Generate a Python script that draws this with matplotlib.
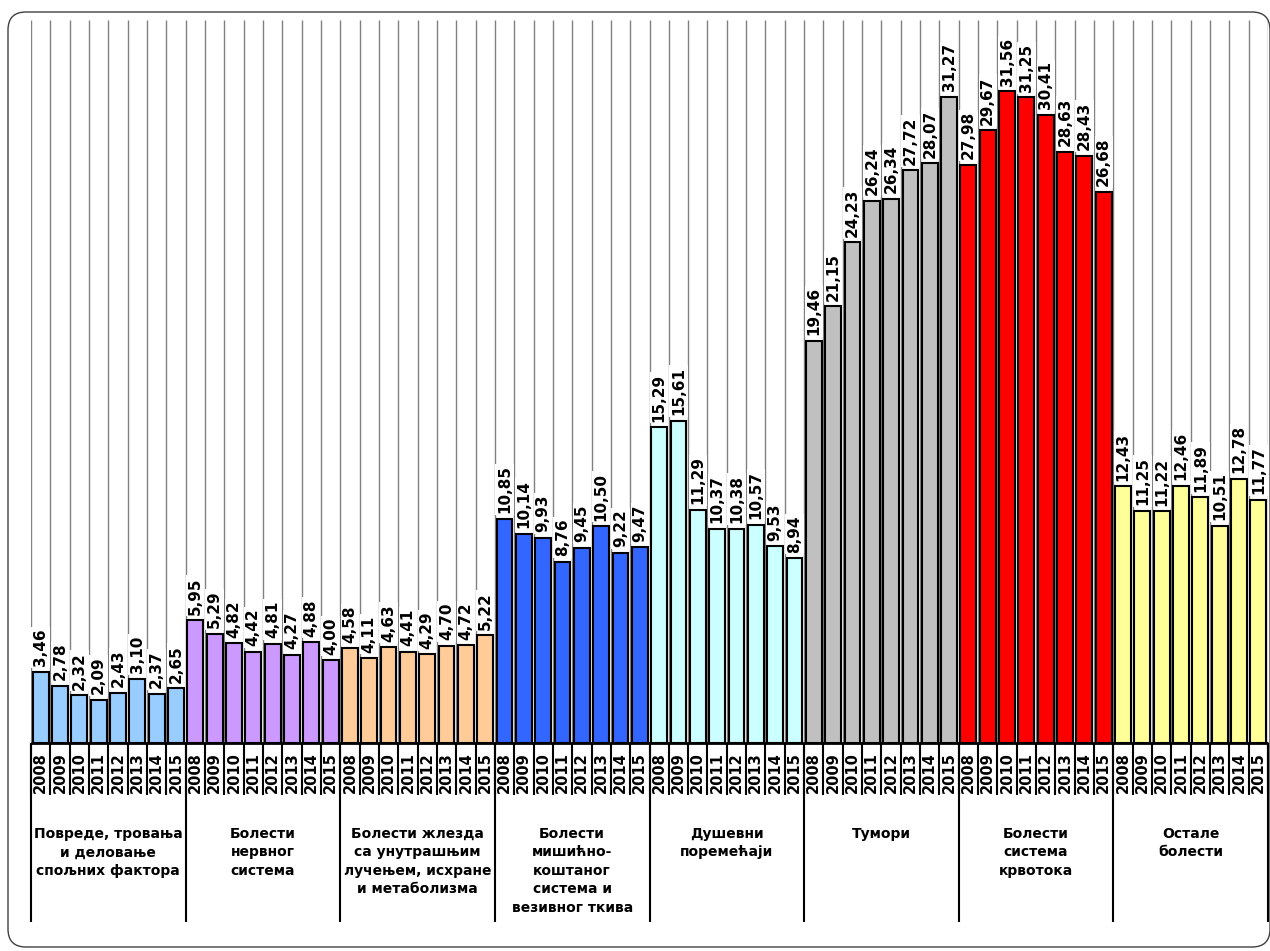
import matplotlib
matplotlib.use("Agg")
import matplotlib.pyplot as plt
from matplotlib.patches import FancyBboxPatch
from matplotlib.transforms import IdentityTransform

years = ["2008", "2009", "2010", "2011", "2012", "2013", "2014", "2015"]

groups = [
    "Повреде, тровања\nи деловање\nспољних фактора",
    "Болести\nнервног\nсистема",
    "Болести жлезда\nса унутрашњим\nлучењем, исхране\nи метаболизма",
    "Болести\nмишићно-\nкоштаног\nсистема и\nвезивног ткива",
    "Душевни\nпоремећаји",
    "Тумори",
    "Болести\nсистема\nкрвотока",
    "Остале\nболести",
]

injuries = [3.46, 2.78, 2.32, 2.09, 2.43, 3.10, 2.37, 2.65]
nervous = [5.95, 5.29, 4.82, 4.42, 4.81, 4.27, 4.88, 4.00]
endocrine = [4.58, 4.11, 4.63, 4.41, 4.29, 4.70, 4.72, 5.22]
musculo = [10.85, 10.14, 9.93, 8.76, 9.45, 10.50, 9.22, 9.47]
mental = [15.29, 15.61, 11.29, 10.37, 10.38, 10.57, 9.53, 8.94]
tumors = [19.46, 21.15, 24.23, 26.24, 26.34, 27.72, 28.07, 31.27]
circulatory = [27.98, 29.67, 31.56, 31.25, 30.41, 28.63, 28.43, 26.68]
other = [12.43, 11.25, 11.22, 12.46, 11.89, 10.51, 12.78, 11.77]

series = [injuries, nervous, endocrine, musculo, mental, tumors, circulatory, other]
colors = ["#99CCFF", "#CC99FF", "#FFCC99", "#3366FF",
          "#CCFFFF", "#C0C0C0", "#FF0000", "#FFFF99"]

W, H = 1270, 951
fig = plt.figure(figsize=(W / 100, H / 100), dpi=100)
# axes in pixel terms: left 31, right 1268, baseline 743, top 20
ax = fig.add_axes([31 / W, (H - 743) / H, (1268 - 31) / W, (743 - 20) / H])

n_years = len(years)
n_total = n_years * len(groups)
ymax = 35.0
ax.set_xlim(0, n_total)
ax.set_ylim(0, ymax)
px_per_unit = (743 - 20) / ymax

def px(p):
    # pixels below baseline -> data y
    return -p / px_per_unit

# gray grid lines at each slot boundary
ax.vlines(range(n_total + 1), 0, ymax, colors="#808080", lw=1, zorder=0)

for g, (vals, col) in enumerate(zip(series, colors)):
    xs = [g * n_years + i + 0.5 for i in range(n_years)]
    ax.bar(xs, vals, width=0.82, color=col, edgecolor="black", lw=1.5, zorder=2)
    for x, v in zip(xs, vals):
        ax.annotate(f"{v:.2f}".replace(".", ","), (x, v), xytext=(0, 4),
                    textcoords="offset points", rotation=90, ha="center", va="bottom",
                    fontsize=11, fontweight="bold", zorder=3,
                    bbox=dict(facecolor="white", edgecolor="none", pad=1.2))
    for i, yr in enumerate(years):
        ax.text(xs[i], px(30), yr, rotation=90, ha="center", va="center",
                fontsize=10.5, fontweight="bold", clip_on=False)
    ax.text(g * n_years + n_years / 2, px(84), groups[g], ha="center", va="top",
            fontsize=10, fontweight="bold", linespacing=1.4, clip_on=False)

# baseline
ax.hlines(0, 0, n_total, colors="black", lw=2, zorder=4, clip_on=False)
# year separators and group separators below the axis
ax.vlines(range(n_total + 1), px(52), 0, colors="black", lw=1.5, clip_on=False)
ax.vlines(range(0, n_total + 1, n_years), px(179), 0, colors="black", lw=1.5, clip_on=False)

ax.set_xticks([])
ax.set_yticks([])
for s in ax.spines.values():
    s.set_visible(False)

border = FancyBboxPatch((8, 4), 1262, 935, boxstyle="round,pad=0,rounding_size=18",
                        transform=IdentityTransform(), facecolor="none",
                        edgecolor="#404040", lw=1)
fig.add_artist(border)

fig.savefig("out.png", dpi=100)
